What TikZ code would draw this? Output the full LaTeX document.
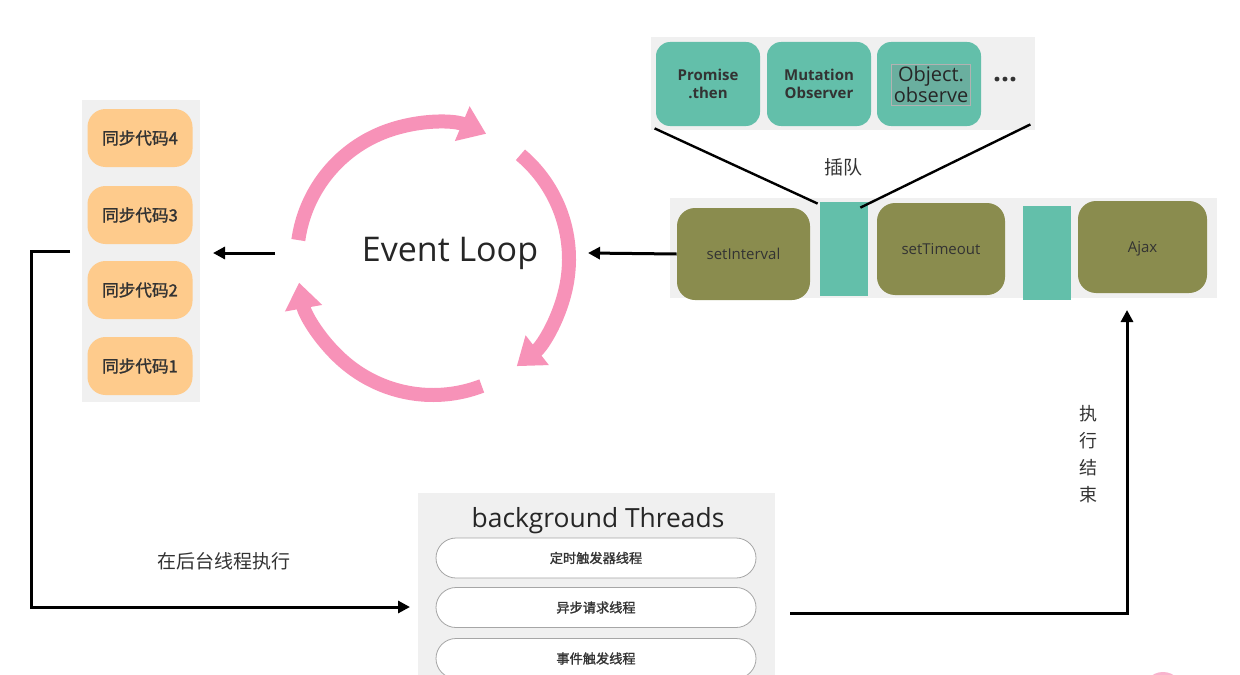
\documentclass[tikz,border=0pt]{standalone}
\usepackage{fontspec}
\setmainfont{Open Sans}
\newfontfamily\cjk{Noto Sans CJK SC}
\newfontfamily\cjkb{Noto Sans CJK SC}[FakeBold=1.5]
\usetikzlibrary{arrows.meta}

\definecolor{syncorange}{HTML}{FECB8C}
\definecolor{microteal}{HTML}{63BFAA}
\definecolor{macroolive}{HTML}{8A8C4E}
\definecolor{looppink}{HTML}{F792B8}
\definecolor{panelgrey}{HTML}{F0F0F0}
\definecolor{textdark}{HTML}{333333}

\tikzset{
  panel/.style={fill=panelgrey, draw=none, inner sep=0pt},
  syncbox/.style={fill=syncorange, rounded corners=9pt, minimum width=52.5pt,
    minimum height=29pt, inner sep=0pt, text=textdark,
    font=\cjkb\fontsize{8.3}{10}\selectfont},
  microbox/.style={fill=microteal, rounded corners=7pt, minimum width=52pt,
    minimum height=42pt, inner sep=0pt, align=center, text=textdark,
    font=\bfseries\fontsize{7.5}{9}\selectfont},
  macrobox/.style={fill=macroolive, rounded corners=9pt, minimum height=46pt,
    inner sep=0pt, text=textdark, font=\fontsize{7.5}{9}\selectfont},
  jumpbox/.style={fill=microteal, minimum width=24pt, minimum height=47pt, inner sep=0pt},
  threadpill/.style={fill=white, draw=gray!70, rounded corners=10pt,
    minimum width=160pt, minimum height=20pt, inner sep=0pt,
    font=\cjkb\fontsize{6.6}{8}\selectfont, text=textdark},
  conn/.style={line width=1.5pt, -{Triangle[length=6pt,width=6pt]}},
  wire/.style={line width=1.2pt},
  looparc/.style={looppink, line width=7pt, -{Triangle[length=13pt,width=18pt]}},
  lbl/.style={font=\cjk\fontsize{9.5}{11}\selectfont, text=textdark}
}

\begin{document}
\begin{tikzpicture}[x=0.5pt, y=0.5pt, line cap=butt, line join=miter]

  \useasboundingbox (0,0) rectangle (1240,-674);

  % ---------- synchronous code stack ----------
  \node[panel, minimum width=59pt, minimum height=151pt] (stack) at (141,-251) {};
  \node[syncbox] (sync4) at (140,-138) {同步代码4};
  \node[syncbox] (sync3) at (140,-215) {同步代码3};
  \node[syncbox] (sync2) at (140,-290) {同步代码2};
  \node[syncbox] (sync1) at (140,-366) {同步代码1};

  % ---------- event loop ----------
  \coordinate (loopc) at (433,-259);
  \draw[looparc] ([shift={(172:68pt)}]loopc) arc[start angle=172, end angle=67, radius=68pt];
  \draw[looparc] ([shift={(50:68pt)}]loopc) arc[start angle=50, end angle=-52, radius=68pt];
  \draw[looparc] ([shift={(-69:68pt)}]loopc) arc[start angle=-69, end angle=-170, radius=68pt];
  \node[text=black!85, font=\fontsize{17}{20}\selectfont] (looptxt) at (450,-253) {Event Loop};

  \coordinate (loopout) at (275,-253);
  \coordinate (syncin) at (213,-253);
  \coordinate (loopin) at (588,-253);
  \draw[conn] (loopout) -- (syncin);

  % ---------- micro tasks ----------
  \node[panel, minimum width=192pt, minimum height=46.5pt] (micro) at (843,-83.5) {};
  \node[microbox] (promise) at (708,-84) {Promise\\.then};
  \node[microbox] (mutation) at (819,-84) {Mutation\\Observer};
  \node[microbox] (objobs) at (929,-84) {};
  \node[draw=gray!60, fill=gray!25!microteal, inner sep=1pt, align=center,
    font=\fontsize{10}{10.5}\selectfont, text=black!85] (objtxt) at (931,-85) {Object.\\observe};
  \node[font=\bfseries\fontsize{14}{14}\selectfont, text=textdark] (dots) at (1005,-80) {...};

  % ---------- macro tasks ----------
  \node[panel, minimum width=273.5pt, minimum height=50pt] (macro) at (943.5,-248) {};
  \node[macrobox, minimum width=66.5pt] (setinterval) at (743.5,-254) {setInterval};
  \node[jumpbox] (jump1) at (844,-249) {};
  \node[macrobox, minimum width=64pt] (settimeout) at (941,-249) {setTimeout};
  \node[jumpbox] (jump2) at (1047,-252.5) {};
  \node[macrobox, minimum width=64.5pt, text depth=0pt] (ajax) at (1142.5,-247) {Ajax};

  \draw[conn] (setinterval.west) -- (loopin);

  % micro tasks cut in the queue
  \draw[wire] ([shift={(2pt,1pt)}]micro.south west) -- ([shift={(-1pt,-1pt)}]jump1.north west);
  \draw[wire] ([shift={(-2.5pt,3pt)}]micro.south east) -- ([shift={(-4pt,-3pt)}]jump1.north east);
  \node[lbl] (cutin) at (843,-167) {插队};

  % ---------- background threads ----------
  \node[panel, minimum width=178.5pt, minimum height=95pt, anchor=north west] (threads) at (418,-493) {};
  \node[text=black!85, font=\fontsize{13.2}{15}\selectfont] (bgtitle) at (598,-521) {background Threads};
  \node[threadpill] (timerthr) at (596,-558) {定时触发器线程};
  \node[threadpill] (ajaxthr) at (596,-607.5) {异步请求线程};
  \node[threadpill] (eventthr) at (596,-658.5) {事件触发线程};

  % sync code -> background threads
  \coordinate (syncout) at (70,-251);
  \coordinate (threadin) at (410,-607);
  \draw[conn] (syncout) -- ++(-39,0) |- (threadin);
  \node[lbl] (runbg) at (224,-561) {在后台线程执行};

  % background threads -> macro tasks
  \coordinate (threadout) at (790,-613);
  \coordinate (ajaxin) at (1127,-310);
  \draw[conn] (threadout) -| (ajaxin);
  \node[lbl, align=center, font=\cjk\fontsize{9}{13.5}\selectfont] (done) at (1088,-454) {执\\行\\结\\束};

  % pink mark in the corner
  \begin{scope}
    \clip (0,0) rectangle (1240,-674);
    \fill[looppink!70] (1163,-692) circle (10pt);
  \end{scope}

\end{tikzpicture}
\end{document}
